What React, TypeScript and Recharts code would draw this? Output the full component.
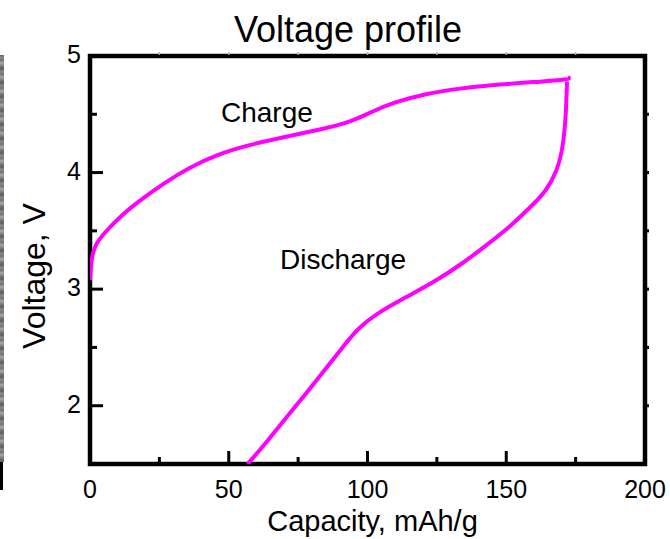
import { LineChart, Line, XAxis, YAxis, ReferenceArea, Customized } from "recharts";

const FONT = '"Liberation Sans", Arial, Helvetica, sans-serif';
const MAGENTA = "#ff00ff";

// Axis ticks: every entry gets a tick mark, only the "labels" entries get text
const capacityTicks = [0, 25, 50, 75, 100, 125, 150, 175, 200];
const capacityLabels = [0, 50, 100, 150, 200];
const voltageTicks = [1.5, 2, 2.5, 3, 3.5, 4, 4.5, 5];
const voltageLabels = [2, 3, 4, 5];

// Charge branch (mAh/g, V)
const chargeCapacity = [0, 0.5, 2.0, 5.6, 11.4, 18.6, 26.9, 35.9, 46.0, 57.5, 70.2, 82.8, 93.6, 101.5, 109.8, 120.7, 133.3, 147.7, 162.1, 171.5, 172.2];
const chargeVoltage = [3.08, 3.23, 3.37, 3.49, 3.63, 3.77, 3.91, 4.04, 4.15, 4.235, 4.305, 4.37, 4.44, 4.52, 4.6, 4.67, 4.72, 4.755, 4.78, 4.8, 4.82];

// Discharge branch (mAh/g, V)
const dischargeCapacity = [171.9, 171.6, 171.1, 170.1, 167.9, 163.9, 158.5, 151.3, 143.0, 134.0, 124.3, 113.8, 103.7, 97.0, 92.0, 86.0, 79.0, 71.5, 64.0, 56.8];
const dischargeVoltage = [4.78, 4.58, 4.39, 4.2, 4.01, 3.84, 3.7, 3.54, 3.38, 3.22, 3.07, 2.93, 2.79, 2.665, 2.53, 2.35, 2.14, 1.92, 1.7, 1.5];

const chargeRows = chargeCapacity.map((cap, i) => ({ cap, v: chargeVoltage[i] }));
const dischargeRows = dischargeCapacity.map((cap, i) => ({ cap, v: dischargeVoltage[i] }));

function BottomTick({ x, y, payload }: any) {
  const value = payload.value;
  const labelled = capacityLabels.includes(value);
  const edge = value === 0 || value === 200;
  return (
    <g>
      {!edge && (
        <line x1={x} x2={x} y1={y} y2={y - (labelled ? 13 : 7)} stroke="#000" strokeWidth={3} />
      )}
      {labelled && (
        <text x={x} y={y + 34} textAnchor="middle" fontSize={25} fontFamily={FONT} fill="#000">
          {value}
        </text>
      )}
    </g>
  );
}

function LeftTick({ x, y, payload }: any) {
  const value = payload.value;
  const labelled = voltageLabels.includes(value);
  const edge = value === 1.5 || value === 5;
  return (
    <g>
      {!edge && (
        <line x1={x} x2={x + (labelled ? 13 : 7)} y1={y} y2={y} stroke="#000" strokeWidth={3} />
      )}
      {labelled && (
        <text x={x - 9} y={y + 7} textAnchor="end" fontSize={25} fontFamily={FONT} fill="#000">
          {value}
        </text>
      )}
    </g>
  );
}

function RightTick({ x, y, payload }: any) {
  const value = payload.value;
  if (value === 1.5 || value === 5) return <g />;
  return <line x1={x} x2={x + 4} y1={y} y2={y} stroke="#000" strokeWidth={3} />;
}

function TopTick({ x, y, payload }: any) {
  const value = payload.value;
  if (value === 0 || value === 200) return <g />;
  return <line x1={x} x2={x} y1={y - 4} y2={y - 1} stroke="#b0b0b0" strokeWidth={1.5} />;
}

function Annotations() {
  return (
    <g fontFamily={FONT} fill="#000">
      <text x={348} y={41.5} textAnchor="middle" fontSize={36}>
        Voltage profile
      </text>
      <text x={372.5} y={531} textAnchor="middle" fontSize={29}>
        Capacity, mAh/g
      </text>
      <text transform="translate(45,276) rotate(-90)" textAnchor="middle" fontSize={32}>
        Voltage, V
      </text>
      <text x={221} y={121.5} fontSize={28}>
        Charge
      </text>
      <text x={280} y={269} fontSize={28}>
        Discharge
      </text>
    </g>
  );
}

export default function App() {
  return (
    <div style={{ position: "absolute", left: 0, top: 0, width: 670, height: 539, background: "#fff" }}>
      {/* grainy strip along the left edge */}
      <div
        style={{
          position: "absolute",
          left: 0,
          top: 55,
          width: 4,
          height: 407,
          background:
            "repeating-linear-gradient(180deg, #626262 0px, #8e8e8e 3px, #707070 5px, #a8a8a8 8px, #7a7a7a 11px, #5e5e5e 14px)",
        }}
      />
      <div style={{ position: "absolute", left: 0, top: 462, width: 3, height: 28, background: "#000" }} />
      <LineChart width={670} height={539} margin={{ top: 0, right: 0, bottom: 0, left: 0 }}>
        <XAxis
          xAxisId="b"
          dataKey="cap"
          type="number"
          orientation="bottom"
          domain={[0, 200]}
          ticks={capacityTicks}
          interval={0}
          allowDataOverflow
          height={75}
          tickSize={0}
          tickMargin={0}
          tickLine={false}
          axisLine={false}
          tick={BottomTick}
        />
        <XAxis
          xAxisId="t"
          dataKey="cap"
          type="number"
          orientation="top"
          domain={[0, 200]}
          ticks={capacityTicks}
          interval={0}
          allowDataOverflow
          height={56}
          tickSize={0}
          tickMargin={0}
          tickLine={false}
          axisLine={false}
          tick={TopTick}
        />
        <YAxis
          yAxisId="l"
          dataKey="v"
          type="number"
          orientation="left"
          domain={[1.5, 5]}
          ticks={voltageTicks}
          interval={0}
          allowDataOverflow
          width={90}
          tickSize={0}
          tickMargin={0}
          tickLine={false}
          axisLine={false}
          tick={LeftTick}
        />
        <YAxis
          yAxisId="r"
          dataKey="v"
          type="number"
          orientation="right"
          domain={[1.5, 5]}
          ticks={voltageTicks}
          interval={0}
          allowDataOverflow
          width={25}
          tickSize={0}
          tickMargin={0}
          tickLine={false}
          axisLine={false}
          tick={RightTick}
        />

        {/* plot frame */}
        <ReferenceArea
          xAxisId="b"
          yAxisId="l"
          x1={0}
          x2={200}
          y1={1.5}
          y2={5}
          fill="none"
          fillOpacity={0}
          stroke="#000"
          strokeWidth={4.5}
          ifOverflow="visible"
        />

        <Line
          xAxisId="b"
          yAxisId="l"
          data={chargeRows}
          dataKey="v"
          type="natural"
          stroke={MAGENTA}
          strokeWidth={4}
          dot={false}
          isAnimationActive={false}
        />
        <Line
          xAxisId="b"
          yAxisId="l"
          data={dischargeRows}
          dataKey="v"
          type="natural"
          stroke={MAGENTA}
          strokeWidth={4}
          dot={false}
          isAnimationActive={false}
        />

        <Customized component={Annotations} />
      </LineChart>
    </div>
  );
}
